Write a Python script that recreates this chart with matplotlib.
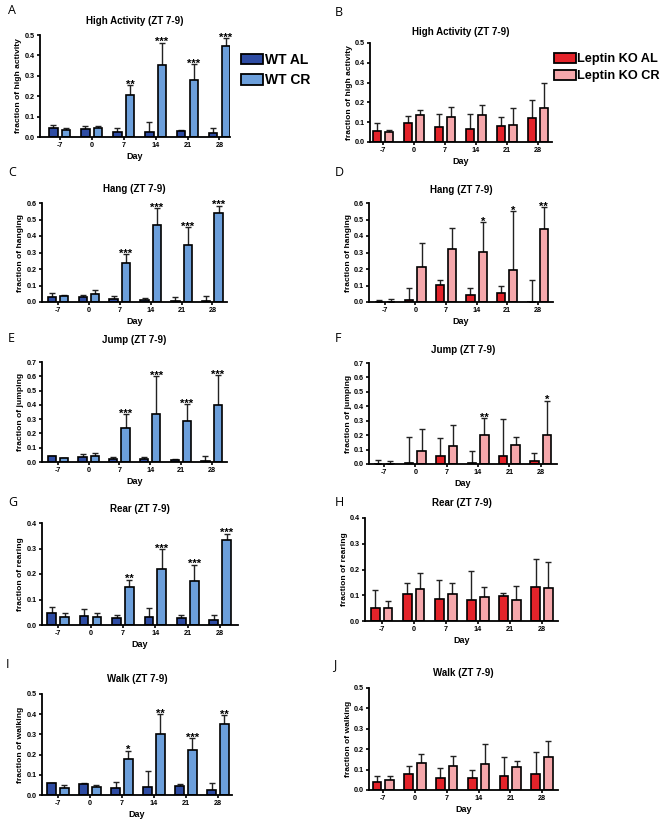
import numpy as np
import matplotlib.pyplot as plt
from matplotlib.patches import Patch

plt.rcParams['font.family'] = ['Liberation Sans', 'DejaVu Sans']

W, H = 661, 823

days = ['-7', '0', '7', '14', '21', '28']

# A - high activity, WT
wt_al_high = [0.042, 0.040, 0.025, 0.025, 0.030, 0.018]
wt_al_high_err = [0.015, 0.013, 0.020, 0.047, 0.006, 0.027]
wt_cr_high = [0.035, 0.045, 0.205, 0.352, 0.279, 0.446]
wt_cr_high_err = [0.009, 0.010, 0.049, 0.110, 0.077, 0.038]
wt_high_stars = ['', '', '**', '***', '***', '***']

# B - high activity, leptin KO
ko_al_high = [0.058, 0.097, 0.076, 0.068, 0.081, 0.119]
ko_al_high_err = [0.037, 0.033, 0.065, 0.072, 0.046, 0.094]
ko_cr_high = [0.050, 0.136, 0.127, 0.136, 0.085, 0.170]
ko_cr_high_err = [0.010, 0.027, 0.048, 0.050, 0.085, 0.127]
ko_high_stars = ['', '', '', '', '', '']

# C - hang, WT
wt_al_hang = [0.030, 0.030, 0.018, 0.010, 0.006, 0.004]
wt_al_hang_err = [0.025, 0.010, 0.017, 0.016, 0.024, 0.031]
wt_cr_hang = [0.037, 0.051, 0.238, 0.465, 0.346, 0.539]
wt_cr_hang_err = [0.003, 0.020, 0.051, 0.104, 0.107, 0.044]
wt_hang_stars = ['', '', '***', '***', '***', '***']

# D - hang, leptin KO
ko_al_hang = [0.002, 0.014, 0.102, 0.045, 0.055, 0.002]
ko_al_hang_err = [0.008, 0.073, 0.034, 0.042, 0.043, 0.130]
ko_cr_hang = [0.002, 0.213, 0.319, 0.301, 0.193, 0.441]
ko_cr_hang_err = [0.016, 0.143, 0.128, 0.183, 0.356, 0.132]
ko_hang_stars = ['', '', '', '*', '*', '**']

# E - jump, WT
wt_al_jump = [0.040, 0.035, 0.019, 0.023, 0.012, 0.005]
wt_al_jump_err = [0.002, 0.024, 0.016, 0.012, 0.007, 0.037]
wt_cr_jump = [0.028, 0.040, 0.235, 0.333, 0.286, 0.400]
wt_cr_jump_err = [0.002, 0.023, 0.098, 0.267, 0.120, 0.206]
wt_jump_stars = ['', '', '***', '***', '***', '***']

# F - jump, leptin KO
ko_al_jump = [0.001, 0.007, 0.058, 0.007, 0.058, 0.018]
ko_al_jump_err = [0.029, 0.180, 0.122, 0.081, 0.254, 0.056]
ko_cr_jump = [0.001, 0.088, 0.122, 0.203, 0.129, 0.200]
ko_cr_jump_err = [0.017, 0.157, 0.150, 0.116, 0.058, 0.239]
ko_jump_stars = ['', '', '', '**', '', '*']

# G - rear, WT
wt_al_rear = [0.049, 0.035, 0.026, 0.033, 0.029, 0.021]
wt_al_rear_err = [0.021, 0.028, 0.013, 0.033, 0.010, 0.018]
wt_cr_rear = [0.033, 0.033, 0.148, 0.220, 0.174, 0.334]
wt_cr_rear_err = [0.016, 0.013, 0.029, 0.078, 0.062, 0.024]
wt_rear_stars = ['', '', '**', '***', '***', '***']

# H - rear, leptin KO
ko_al_rear = [0.051, 0.103, 0.085, 0.081, 0.098, 0.133]
ko_al_rear_err = [0.069, 0.043, 0.074, 0.113, 0.011, 0.107]
ko_cr_rear = [0.051, 0.126, 0.104, 0.094, 0.081, 0.130]
ko_cr_rear_err = [0.026, 0.062, 0.045, 0.039, 0.056, 0.098]
ko_rear_stars = ['', '', '', '', '', '']

# I - walk, WT
wt_al_walk = [0.058, 0.053, 0.033, 0.038, 0.043, 0.025]
wt_al_walk_err = [0.003, 0.005, 0.030, 0.081, 0.010, 0.036]
wt_cr_walk = [0.033, 0.038, 0.177, 0.301, 0.224, 0.353]
wt_cr_walk_err = [0.017, 0.012, 0.042, 0.099, 0.057, 0.041]
wt_walk_stars = ['', '', '*', '**', '***', '**']

# J - walk, leptin KO
ko_al_walk = [0.041, 0.079, 0.061, 0.057, 0.069, 0.077]
ko_al_walk_err = [0.029, 0.039, 0.046, 0.041, 0.095, 0.107]
ko_cr_walk = [0.049, 0.130, 0.120, 0.126, 0.115, 0.164]
ko_cr_walk_err = [0.020, 0.045, 0.047, 0.099, 0.028, 0.074]
ko_walk_stars = ['', '', '', '', '', '']

WT_AL, WT_CR = '#2e4ca3', '#6c9fdb'
KO_AL, KO_CR = '#e4232a', '#f5a7ab'


def px_box(l, t, r, b):
    return [l / W, 1 - b / H, (r - l) / W, (b - t) / H]


def draw(ax, al, al_err, cr, cr_err, stars, c_al, c_cr, ymax, xlim):
    x = np.arange(len(days))
    zeros = np.zeros(len(days))
    ax.bar(x - 0.2, al, 0.27, color=c_al, edgecolor='black', linewidth=1.2, zorder=2)
    ax.bar(x + 0.2, cr, 0.27, color=c_cr, edgecolor='black', linewidth=1.2, zorder=2)
    ax.errorbar(x - 0.2, al, yerr=[zeros, al_err], fmt='none', ecolor='#222222',
                elinewidth=1.0, capsize=2.5, capthick=1.0, zorder=1)
    ax.errorbar(x + 0.2, cr, yerr=[zeros, cr_err], fmt='none', ecolor='#222222',
                elinewidth=1.0, capsize=2.5, capthick=1.0, zorder=1)
    for i, s in enumerate(stars):
        if s:
            ax.annotate(s, (x[i] + 0.2, cr[i] + cr_err[i]), xytext=(0, -3.2),
                        textcoords='offset points', ha='center', va='bottom',
                        fontsize=8, fontweight='bold')
    ax.set_xlim(*xlim)
    ax.set_ylim(0, ymax)
    yt = np.round(np.arange(0, ymax + 0.05, 0.1), 1)
    ax.set_yticks(yt)
    ax.set_yticklabels([f'{v:.1f}' for v in yt])
    ax.set_xticks(x)
    ax.set_xticklabels(days)
    for sp in ['top', 'right']:
        ax.spines[sp].set_visible(False)
    for sp in ['left', 'bottom']:
        ax.spines[sp].set_linewidth(1.3)
    ax.tick_params(direction='out', length=2.5, width=1.2, labelsize=5.2, pad=1)
    for lab in ax.get_xticklabels() + ax.get_yticklabels():
        lab.set_fontweight('bold')
    ax.set_xlabel('Day', fontsize=6.5, fontweight='bold', labelpad=2)


fig = plt.figure(figsize=(W / 100, H / 100), dpi=100)

panels = [
    # letter, box(px), xlim, ymax, title, title y, letter pos, data...
    ('A', (40, 35, 230, 137), (-0.62, 5.33), 0.5, 'High Activity (ZT 7-9)', 21, (8, 10),
     wt_al_high, wt_al_high_err, wt_cr_high, wt_cr_high_err, wt_high_stars, 'WT', 'fraction of high activity'),
    ('B', (370, 43, 552, 142), (-0.42, 5.45), 0.5, 'High Activity (ZT 7-9)', 32, (335, 12),
     ko_al_high, ko_al_high_err, ko_cr_high, ko_cr_high_err, ko_high_stars, 'KO', 'fraction of high activity'),
    ('C', (42, 203, 227, 302), (-0.52, 5.47), 0.6, 'Hang (ZT 7-9)', 189, (8, 173),
     wt_al_hang, wt_al_hang_err, wt_cr_hang, wt_cr_hang_err, wt_hang_stars, 'WT', 'fraction of hanging'),
    ('D', (369, 203, 553, 302), (-0.52, 5.5), 0.6, 'Hang (ZT 7-9)', 190, (335, 173),
     ko_al_hang, ko_al_hang_err, ko_cr_hang, ko_cr_hang_err, ko_hang_stars, 'KO', 'fraction of hanging'),
    ('E', (42, 362, 227, 462), (-0.52, 5.5), 0.7, 'Jump (ZT 7-9)', 340, (8, 339),
     wt_al_jump, wt_al_jump_err, wt_cr_jump, wt_cr_jump_err, wt_jump_stars, 'WT', 'fraction of jumping'),
    ('F', (369, 363, 557, 464), (-0.48, 5.52), 0.7, 'Jump (ZT 7-9)', 350, (335, 339),
     ko_al_jump, ko_al_jump_err, ko_cr_jump, ko_cr_jump_err, ko_jump_stars, 'KO', 'fraction of jumping'),
    ('G', (42, 523, 238, 625), (-0.5, 5.55), 0.4, 'Rear (ZT 7-9)', 509, (8, 502),
     wt_al_rear, wt_al_rear_err, wt_cr_rear, wt_cr_rear_err, wt_rear_stars, 'WT', 'fraction of rearing'),
    ('H', (365, 518, 558, 621), (-0.52, 5.5), 0.4, 'Rear (ZT 7-9)', 503, (335, 502),
     ko_al_rear, ko_al_rear_err, ko_cr_rear, ko_cr_rear_err, ko_rear_stars, 'KO', 'fraction of rearing'),
    ('I', (42, 694, 232, 795), (-0.5, 5.44), 0.5, 'Walk (ZT 7-9)', 679, (6, 665),
     wt_al_walk, wt_al_walk_err, wt_cr_walk, wt_cr_walk_err, wt_walk_stars, 'WT', 'fraction of walking'),
    ('J', (369, 688, 558, 790), (-0.45, 5.5), 0.5, 'Walk (ZT 7-9)', 673, (333, 665),
     ko_al_walk, ko_al_walk_err, ko_cr_walk, ko_cr_walk_err, ko_walk_stars, 'KO', 'fraction of walking'),
]

for (letter, box, xlim, ymax, title, ty, lpos,
     al, al_err, cr, cr_err, stars, grp, ylabel) in panels:
    ax = fig.add_axes(px_box(*box))
    c_al, c_cr = (WT_AL, WT_CR) if grp == 'WT' else (KO_AL, KO_CR)
    draw(ax, al, al_err, cr, cr_err, stars, c_al, c_cr, ymax, xlim)
    cx = (box[0] + box[2]) / 2
    cy = (box[1] + box[3]) / 2
    fig.text((box[0] - 21) / W, 1 - cy / H, ylabel, rotation=90, ha='center', va='center',
             fontsize=6.1, fontweight='bold')
    fig.text(cx / W, 1 - ty / H, title, ha='center', va='center',
             fontsize=7, fontweight='bold')
    fig.text(lpos[0] / W, 1 - lpos[1] / H, letter, ha='left', va='center',
             fontsize=9, family=['Open Sans', 'DejaVu Sans'])

fig.legend(handles=[Patch(facecolor=WT_AL, edgecolor='black', linewidth=1.3, label='WT AL'),
                    Patch(facecolor=WT_CR, edgecolor='black', linewidth=1.3, label='WT CR')],
           loc='upper left', bbox_to_anchor=(241 / W, 1 - 53 / H), frameon=False,
           prop={'weight': 'bold', 'size': 10}, handlelength=1.6, handleheight=0.8,
           handletextpad=0.15, labelspacing=0.45, borderpad=0, borderaxespad=0)

fig.legend(handles=[Patch(facecolor=KO_AL, edgecolor='black', linewidth=1.3, label='Leptin KO AL'),
                    Patch(facecolor=KO_CR, edgecolor='black', linewidth=1.3, label='Leptin KO CR')],
           loc='upper left', bbox_to_anchor=(554 / W, 1 - 53 / H), frameon=False,
           prop={'weight': 'bold', 'size': 9.2}, handlelength=1.7, handleheight=0.8,
           handletextpad=0.1, labelspacing=0.35, borderpad=0, borderaxespad=0)

fig.savefig('out.png', dpi=100)
